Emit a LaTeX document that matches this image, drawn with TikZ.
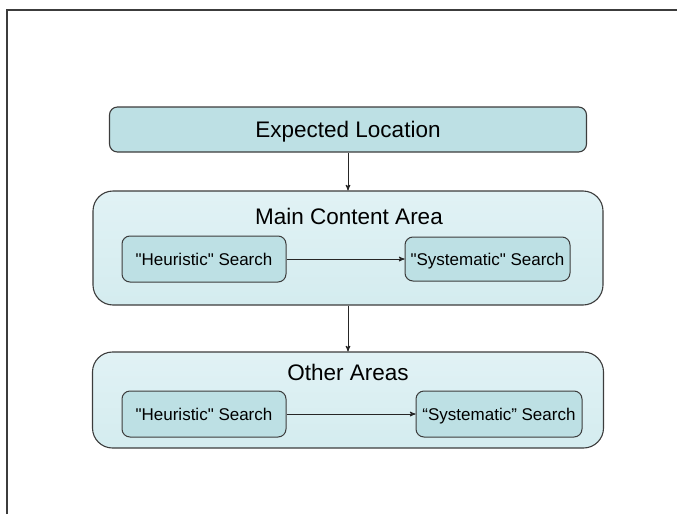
\documentclass[tikz,border=0pt]{standalone}
\usepackage{fontspec}
\newfontfamily\labelfont{Liberation Sans}
\usetikzlibrary{arrows}

\definecolor{boxfill}{HTML}{BDE0E4}
\definecolor{areatop}{HTML}{E1F2F5}
\definecolor{areabot}{HTML}{D4ECEF}
\definecolor{edgegray}{HTML}{3C3C3C}

\begin{document}
\begin{tikzpicture}[x=1pt,y=-1pt,->,>=stealth',thick,
  top box/.style={draw=edgegray,line width=1.1pt,fill=boxfill,rounded corners=8pt,inner sep=0pt,
    font=\labelfont\fontsize{22.5}{26}\selectfont,text height=16pt,text depth=0pt},
  area box/.style={draw=edgegray,line width=1.1pt,top color=areatop,bottom color=areabot,rounded corners=20pt,inner sep=0pt},
  area title/.style={font=\labelfont\fontsize{22.5}{26}\selectfont,text height=16pt,text depth=0pt,inner sep=0pt},
  search node/.style={draw=edgegray,line width=1pt,fill=boxfill,rounded corners=8pt,inner sep=0pt,
    font=\labelfont\fontsize{17}{20}\selectfont,text height=12pt,text depth=0pt}]
  \useasboundingbox (0,0) rectangle (677,514);
  % page frame
  \draw[-,line width=2pt,edgegray] (7,514) -- (7,9.5) -- (677,9.5);

  \node[top box,minimum width=477pt,minimum height=45pt] (loc) at (348,129.5) {Expected Location};

  \node[area box,minimum width=510pt,minimum height=114pt] (main) at (348,248) {};
  \node[area title] (maintitle) at (349,216) {Main Content Area};
  \node[search node,minimum width=164pt,minimum height=46pt] (heur1) at (204,259) {"Heuristic" Search};
  \node[search node,minimum width=165pt,minimum height=44pt] (sys1) at (487.5,259) {"Systematic" Search};

  \node[area box,minimum width=511pt,minimum height=96pt] (other) at (348,400) {};
  \node[area title] (othertitle) at (348,372.5) {Other Areas};
  \node[search node,minimum width=164pt,minimum height=46pt] (heur2) at (204,414) {"Heuristic" Search};
  \node[search node,minimum width=166pt,minimum height=46pt] (sys2) at (499,414) {“Systematic” Search};

\path[line width=1pt,black!85]
  (loc) edge (main)
  (main) edge (other)
  (heur1) edge (sys1)
  (heur2) edge (sys2)
;
\end{tikzpicture}
\end{document}
